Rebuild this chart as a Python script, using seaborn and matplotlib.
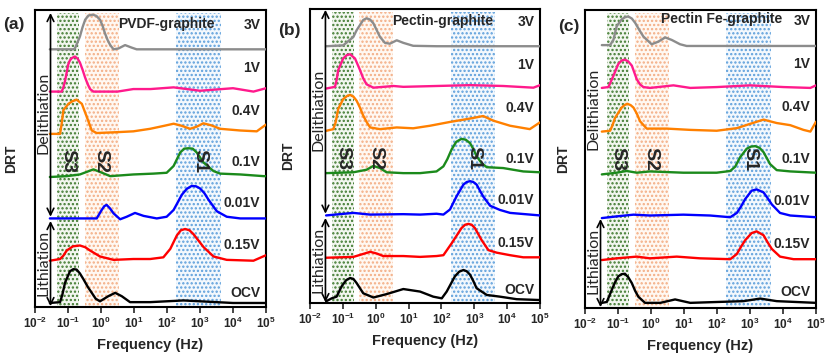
import numpy as np
import pandas as pd
import matplotlib
matplotlib.use("Agg")
import matplotlib.pyplot as plt
import seaborn as sns

# --- DATA (x = log10 of frequency in Hz, y = DRT height above each curve's baseline) ---
voltages = ["OCV", "0.15V", "0.01V", "0.1V", "0.4V", "1V", "3V"]   # bottom to top
titles = ["PVDF-graphite", "Pectin-graphite", "Pectin Fe-graphite"]
panel_tags = ["(a)", "(b)", "(c)"]
decades = [-2, -1, 0, 1, 2, 3, 4, 5]
band_names = ["S3", "S2", "S1"]
band_lo = [-1.32, -0.50, 2.28]
band_hi = [-0.66, 0.54, 3.63]

# PVDF-graphite
a_3v = [(-1.55, 0), (-0.84, 0), (-0.79, 0.02), (-0.64, 0.30), (-0.56, 0.52), (-0.48, 0.70), (-0.38, 0.80),
        (-0.25, 0.82), (-0.14, 0.79), (-0.03, 0.70), (0.05, 0.55), (0.12, 0.38), (0.20, 0.22), (0.28, 0.10),
        (0.38, 0), (0.53, 0.02), (0.73, 0.10), (0.93, 0.04), (1.08, 0), (5.0, 0)]
a_1v = [(-1.55, 0), (-1.19, 0), (-1.14, 0.10), (-1.09, 0.25), (-0.99, 0.65), (-0.94, 0.74), (-0.89, 0.79),
        (-0.79, 0.83), (-0.71, 0.78), (-0.64, 0.69), (-0.56, 0.52), (-0.48, 0.33), (-0.40, 0.17), (-0.33, 0.06),
        (-0.23, 0), (0.5, 0), (0.98, 0.06), (1.5, 0.06), (2.2, 0.10), (3.0, 0.02), (4.0, 0.08), (4.62, 0), (5.0, 0.08)]
a_04v = [(-1.55, 0), (-1.24, 0), (-1.19, 0.25), (-1.14, 0.56), (-0.99, 0.71), (-0.87, 0.77), (-0.74, 0.81),
         (-0.58, 0.71), (-0.43, 0.40), (-0.28, 0.08), (-0.13, 0.02), (0.48, 0.04), (0.98, 0.06), (1.49, 0.12),
         (1.85, 0.18), (2.2, 0.24), (2.45, 0.19), (2.7, 0.12), (2.9, 0.17), (3.1, 0.25), (3.35, 0.20),
         (3.61, 0.12), (4.22, 0.08), (4.72, 0.06), (5.0, 0.22)]
a_01v = [(-1.55, -0.02), (-1.04, 0), (-0.64, 0.04), (-0.23, 0.16), (-0.03, 0.10), (0.28, 0), (0.98, 0.04),
         (1.59, 0.06), (1.99, 0.08), (2.2, 0.24), (2.3, 0.40), (2.4, 0.56), (2.52, 0.65), (2.65, 0.66),
         (2.78, 0.65), (2.9, 0.56), (3.11, 0.32), (3.41, 0.12), (3.61, 0.06), (4.22, 0.04), (4.93, 0), (5.0, 0)]
a_001v = [(-1.55, 0), (-0.13, 0), (0.02, 0.20), (0.10, 0.29), (0.17, 0.32), (0.27, 0.24), (0.38, 0.12),
          (0.58, -0.02), (0.78, 0.04), (1.03, 0.13), (1.29, 0.06), (1.69, 0), (1.99, 0.04), (2.2, 0.20),
          (2.45, 0.56), (2.6, 0.70), (2.75, 0.77), (2.88, 0.76), (3.0, 0.71), (3.13, 0.60), (3.26, 0.44),
          (3.51, 0.17), (3.81, 0.04), (4.22, 0), (5.0, 0)]
a_015v = [(-1.55, 0), (-1.24, 0.04), (-1.14, 0.12), (-1.04, 0.24), (-0.85, 0.34), (-0.64, 0.36), (-0.48, 0.32),
          (-0.33, 0.24), (-0.03, 0.10), (0.38, 0.02), (0.98, 0.04), (1.49, 0.04), (1.89, 0.08), (2.1, 0.28),
          (2.3, 0.60), (2.42, 0.72), (2.55, 0.75), (2.68, 0.72), (2.8, 0.63), (2.95, 0.48), (3.11, 0.32),
          (3.41, 0.10), (3.81, 0.02), (4.62, 0), (5.0, 0.13)]
a_ocv = [(-1.55, 0), (-1.24, 0.02), (-1.17, 0.20), (-1.09, 0.48), (-0.94, 0.75), (-0.84, 0.80), (-0.74, 0.79),
         (-0.64, 0.70), (-0.53, 0.56), (-0.40, 0.38), (-0.28, 0.24), (-0.16, 0.10), (-0.03, 0.04), (0.22, 0.16),
         (0.43, 0.24), (0.63, 0.16), (0.88, 0.02), (1.49, 0.02), (1.99, 0.04), (2.5, 0.06), (3.0, 0.04),
         (4.0, 0), (5.0, 0)]

# Pectin-graphite
b_3v = [(-1.51, 0), (-0.99, 0.02), (-0.68, 0.22), (-0.58, 0.38), (-0.48, 0.50), (-0.38, 0.62), (-0.28, 0.66),
        (-0.17, 0.63), (-0.07, 0.54), (0.03, 0.38), (0.13, 0.22), (0.28, 0.08), (0.43, 0.06), (0.64, 0.14),
        (0.84, 0.08), (1.14, 0.01), (1.85, 0), (5.0, 0)]
b_1v = [(-1.51, 0), (-1.24, 0.04), (-1.19, 0.20), (-1.14, 0.44), (-0.99, 0.71), (-0.88, 0.79), (-0.78, 0.81),
        (-0.63, 0.71), (-0.48, 0.44), (-0.38, 0.24), (-0.28, 0.10), (-0.07, 0.02), (0.54, 0.06), (0.84, 0.04),
        (1.85, 0.06), (2.87, 0.08), (3.88, 0.06), (4.8, 0.02), (5.0, 0.08)]
b_04v = [(-1.51, 0), (-1.29, 0.04), (-1.22, 0.20), (-1.14, 0.52), (-0.99, 0.75), (-0.88, 0.82), (-0.78, 0.85),
         (-0.68, 0.81), (-0.58, 0.71), (-0.48, 0.55), (-0.38, 0.36), (-0.27, 0.20), (-0.17, 0.08), (0.13, 0.04),
         (0.64, 0.08), (1.14, 0.06), (1.65, 0.12), (2.26, 0.21), (2.87, 0.29), (3.27, 0.35), (3.58, 0.24),
         (4.09, 0.12), (4.69, 0.04), (5.0, 0.20)]
b_01v = [(-1.51, 0), (-0.68, 0.02), (-0.28, 0.08), (-0.07, 0.17), (0.13, 0.12), (0.33, 0.02), (0.84, 0),
         (1.35, 0), (1.85, 0.04), (2.06, 0.16), (2.18, 0.33), (2.31, 0.56), (2.45, 0.74), (2.61, 0.81),
         (2.74, 0.79), (2.87, 0.71), (2.97, 0.57), (3.07, 0.40), (3.22, 0.24), (3.38, 0.14), (3.88, 0.12),
         (4.49, 0.04), (5.0, 0.02)]
b_001v = [(-1.51, 0), (-0.68, 0.06), (-0.17, 0.02), (0.84, 0.03), (1.35, 0.02), (1.85, 0.04), (2.06, 0.02),
          (2.26, 0.14), (2.46, 0.45), (2.67, 0.73), (2.77, 0.79), (2.87, 0.81), (2.97, 0.79), (3.07, 0.73),
          (3.27, 0.45), (3.48, 0.23), (3.78, 0.13), (4.09, 0.06), (5.0, 0)]
b_015v = [(-1.51, 0), (-0.68, 0.02), (-0.38, 0.09), (-0.17, 0.14), (0.03, 0.10), (0.23, 0.04), (0.84, 0.04),
          (1.35, 0.02), (1.85, 0.04), (2.06, 0.06), (2.31, 0.34), (2.46, 0.52), (2.61, 0.70), (2.72, 0.78),
          (2.82, 0.80), (2.92, 0.78), (3.02, 0.70), (3.22, 0.42), (3.43, 0.18), (3.68, 0.12), (4.09, 0.06),
          (4.49, 0.01), (5.0, 0.01)]
b_ocv = [(-1.51, -0.03), (-1.34, 0.04), (-1.19, 0.08), (-1.04, 0.32), (-0.90, 0.47), (-0.78, 0.52),
         (-0.68, 0.50), (-0.58, 0.40), (-0.48, 0.28), (-0.38, 0.16), (-0.07, 0.06), (0.33, 0.14), (0.84, 0.26),
         (1.35, 0.20), (1.75, 0.08), (2.01, 0.04), (2.16, 0.20), (2.41, 0.56), (2.54, 0.67), (2.67, 0.71),
         (2.77, 0.68), (2.87, 0.60), (2.97, 0.45), (3.07, 0.28), (3.38, 0.12), (3.78, 0.08), (4.29, 0.02),
         (5.0, 0)]

# Pectin Fe-graphite
c_3v = [(-1.49, 0), (-1.24, 0), (-1.14, 0.12), (-1.04, 0.44), (-0.89, 0.60), (-0.79, 0.65), (-0.69, 0.67),
        (-0.58, 0.62), (-0.48, 0.52), (-0.36, 0.36), (-0.23, 0.20), (0.02, 0.02), (0.22, 0.08), (0.43, 0.18),
        (0.63, 0.12), (0.88, 0.02), (1.08, -0.02), (1.99, -0.02), (5.0, -0.02)]
c_1v = [(-1.49, 0), (-1.29, 0.02), (-1.14, 0.28), (-0.99, 0.56), (-0.89, 0.64), (-0.79, 0.66), (-0.69, 0.62),
        (-0.58, 0.52), (-0.43, 0.20), (-0.33, 0.08), (-0.23, 0.02), (-0.03, 0), (0.68, 0.06), (1.19, 0),
        (1.99, 0.02), (3.0, 0.06), (4.02, 0.02), (4.83, 0), (5.0, 0.06)]
c_04v = [(-1.49, -0.02), (-1.24, 0), (-1.17, 0.12), (-1.09, 0.30), (-0.89, 0.54), (-0.80, 0.60), (-0.72, 0.63),
         (-0.62, 0.60), (-0.53, 0.54), (-0.43, 0.40), (-0.33, 0.22), (-0.13, 0.05), (0.48, 0.05), (1.19, 0.02),
         (1.99, 0), (2.6, 0.06), (3.0, 0.16), (3.41, 0.26), (3.81, 0.18), (4.22, 0.13), (4.62, 0.02),
         (4.83, -0.02), (5.0, 0.21)]
c_01v = [(-1.49, -0.02), (-1.04, 0.02), (-0.74, 0.06), (-0.43, 0.02), (-0.03, 0.05), (0.98, 0.02), (1.99, 0.02),
         (2.4, 0.06), (2.55, 0.16), (2.7, 0.38), (2.9, 0.58), (3.03, 0.63), (3.16, 0.64), (3.29, 0.60),
         (3.41, 0.50), (3.51, 0.36), (3.61, 0.22), (3.81, 0.08), (4.22, 0.05), (5.0, 0.02)]
c_001v = [(-1.49, -0.04), (-1.04, 0), (-0.53, 0.04), (-0.03, 0.02), (0.98, 0.04), (1.79, 0.02), (2.4, -0.02),
          (2.6, 0.08), (2.72, 0.22), (2.85, 0.40), (3.05, 0.60), (3.2, 0.63), (3.41, 0.56), (3.53, 0.43),
          (3.66, 0.28), (3.91, 0.08), (4.22, 0.02), (5.0, -0.02)]
c_015v = [(-1.49, -0.02), (-1.04, 0.02), (-0.43, 0.06), (-0.03, 0.02), (0.78, 0.06), (1.49, 0.02), (2.4, 0),
          (2.6, 0.12), (2.72, 0.28), (2.85, 0.44), (3.05, 0.61), (3.2, 0.65), (3.41, 0.56), (3.53, 0.40),
          (3.66, 0.24), (3.91, 0.06), (4.32, 0), (5.0, 0)]
c_ocv = [(-1.49, -0.02), (-1.34, 0), (-1.19, 0.28), (-1.09, 0.46), (-0.99, 0.60), (-0.89, 0.65), (-0.79, 0.66),
         (-0.69, 0.58), (-0.58, 0.44), (-0.48, 0.26), (-0.38, 0.12), (-0.18, -0.02), (0.28, -0.02), (0.73, 0.06),
         (1.19, -0.02), (1.99, 0), (2.8, 0.02), (3.31, 0.08), (3.81, 0.02), (5.0, -0.02)]

panels = [
    [a_ocv, a_015v, a_001v, a_01v, a_04v, a_1v, a_3v],
    [b_ocv, b_015v, b_001v, b_01v, b_04v, b_1v, b_3v],
    [c_ocv, c_015v, c_001v, c_01v, c_04v, c_1v, c_3v],
]

# --- STYLE ---
sns.set_style("ticks")
plt.rcParams['font.family'] = ['Liberation Sans', 'DejaVu Sans']
plt.rcParams['mathtext.fontset'] = 'custom'
plt.rcParams['mathtext.rm'] = 'Liberation Sans'
plt.rcParams['mathtext.bf'] = 'Liberation Sans:bold'
plt.rcParams['hatch.linewidth'] = 1.1

line_colors = {"OCV": "#000000", "0.15V": "#ff0000", "0.01V": "#0000ff", "0.1V": "#1b8a1b",
               "0.4V": "#ff8000", "1V": "#ff1a8c", "3V": "#8c8c8c"}
band_face = ["#f2f6ef", "#fff8f2", "#f3f8fd"]
band_dots = ["#3f7a2f", "#f3ad84", "#5d9fdb"]
label_dy = [0.24, 0.36, 0.36, 0.33, 0.55, 0.55, 0.57]

# axes boxes in pixels (left, top, right, bottom) of the 835x360 figure
boxes = [(35, 10, 266, 307), (310, 9, 540, 303), (585, 10, 816, 308)]
ylims = [(-0.095, 6.93), (-0.07, 6.88), (-0.14, 6.82)]
tag_pos = [(14, 25), (289, 30), (569, 27)]
title_x = [0.57, 0.578, 0.593]

W, H = 835, 360
fig = plt.figure(figsize=(W / 100, H / 100), dpi=100)

for i, curves in enumerate(panels):
    l, t, r, b = boxes[i]
    ax = fig.add_axes([l / W, 1 - b / H, (r - l) / W, (b - t) / H])

    rows = []
    for k, (v, pts) in enumerate(zip(voltages, curves)):
        for lx, h in pts:
            rows.append({"freq": 10 ** lx, "drt": h + k, "voltage": v})
    df = pd.DataFrame(rows)

    for j in range(3):
        ax.axvspan(10 ** band_lo[j], 10 ** band_hi[j], ymin=0, ymax=0.99,
                   facecolor=band_face[j], edgecolor=band_dots[j], hatch='....', linewidth=0, zorder=0)

    sns.lineplot(data=df, x="freq", y="drt", hue="voltage", palette=line_colors,
                 estimator=None, sort=False, legend=False, linewidth=1.7, ax=ax, zorder=3)

    ax.set_xscale('log')
    ax.set_xlim(1e-2, 1e5)
    ax.set_ylim(*ylims[i])
    ax.set_yticks([])
    ax.set_xticks([10.0 ** d for d in decades])
    ax.set_xticklabels([r'$\mathbf{10^{%d}}$' % d for d in decades], fontsize=8.5)
    ax.tick_params(axis='x', which='major', direction='out', length=4, width=1.2, pad=2)
    ax.tick_params(axis='x', which='minor', direction='out', length=2, width=0.8)
    for s in ax.spines.values():
        s.set_linewidth(1.5)
        s.set_color('black')

    ax.set_xlabel("Frequency (Hz)", fontsize=10.5, fontweight='bold')
    ax.xaxis.set_label_coords(0.5, -0.105)
    ax.set_ylabel("DRT", fontsize=10, fontweight='bold')
    ax.yaxis.set_label_coords(-0.075 if i == 0 else -0.065, 0.5)

    # voltage labels
    ytr = ax.get_yaxis_transform()
    for k, v in enumerate(voltages):
        ax.text(0.975, k + label_dy[k], v, transform=ytr, ha='right', va='center',
                fontsize=10, fontweight='bold', zorder=5)

    ax.text(title_x[i], 6.6, titles[i], transform=ytr, ha='center', va='center',
            fontsize=10, fontweight='bold', zorder=5)

    # band names
    for j, lab in enumerate(band_names):
        cx = 10 ** [-1.0, 0.0, 3.0][j]
        ax.text(cx, 3.35, lab, rotation=-90, ha='center', va='center', fontsize=14,
                fontweight='bold', zorder=6)

    # lithiation / delithiation arrows
    xa = 10 ** -1.53
    arr = dict(arrowstyle='<->', lw=1.2, color='black', mutation_scale=12, shrinkA=0, shrinkB=0)
    ax.annotate('', xy=(xa, 6.86), xytext=(xa, 2.04), arrowprops=arr, zorder=6)
    ax.annotate('', xy=(xa, 1.94), xytext=(xa, ylims[i][0] + 0.02), arrowprops=arr, zorder=6)
    ax.text(10 ** -1.73, 4.5, "Delithiation", rotation=90, ha='center', va='center',
            fontsize=11.5, family=['Lato', 'DejaVu Sans'], zorder=6)
    ax.text(10 ** -1.73, 0.95, "Lithiation", rotation=90, ha='center', va='center',
            fontsize=11.5, family=['Lato', 'DejaVu Sans'], zorder=6)

    fig.text(tag_pos[i][0] / W, 1 - tag_pos[i][1] / H, panel_tags[i], ha='center', va='center',
             fontsize=12.5, fontweight='bold')

fig.savefig("out.png", dpi=100)
